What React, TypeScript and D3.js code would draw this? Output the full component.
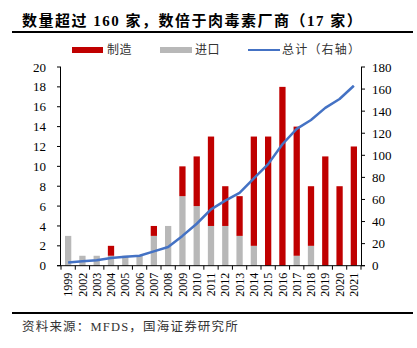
import React from "react";
import * as d3 from "d3";

const years = ["1999","2002","2003","2004","2005","2006","2007","2008","2009","2010","2011","2012","2013","2014","2015","2016","2017","2018","2019","2020","2021"];
const made = [0,0,0,1,0,0,1,0,3,5,9,4,4,11,13,18,13,6,11,8,12];
const imported = [3,1,1,1,1,1,3,4,7,6,4,4,3,2,0,0,1,2,0,0,0];
const total = [3,4,5,7,8,9,13,17,27,38,51,59,66,79,92,110,124,132,143,151,163];
const leftTicks = [0,2,4,6,8,10,12,14,16,18,20];
const rightTicks = [0,20,40,60,80,100,120,140,160,180];

const RED = "#C00000";
const GRAY = "#B8B8B8";
const BLUE = "#4472C4";
const SERIF = "'Liberation Serif', 'Times New Roman', 'Noto Sans CJK SC', serif";
const CJK = "'Liberation Serif', 'Noto Sans CJK SC', serif";

export default function App() {
  const W = 417, H = 348;
  const x0 = 61, x1 = 361, yTop = 67, yBot = 265.7;
  const x = d3.scaleBand<string>().domain(years).range([x0, x1]).paddingInner(0.56).paddingOuter(0.28);
  const step = x.step();
  const yL = d3.scaleLinear().domain([0, 20]).range([yBot, yTop]);
  const yR = d3.scaleLinear().domain([0, 180]).range([yBot, yTop]);
  const line = d3.line<number>().x((_, i) => (x(years[i]) as number) + x.bandwidth() / 2).y(d => yR(d));
  const bw = x.bandwidth();

  return (
    <div style={{ position: "absolute", left: 0, top: 0 }}>
    <svg width={W} height={H} style={{ display: "block", background: "#fff" }}>
      <text x={22} y={25.5} fontFamily={CJK} fontWeight="bold" fontSize={15} letterSpacing={1.5} fill="#000">数量超过 160 家，数倍于肉毒素厂商（17 家）</text>
      <line x1={12} x2={413} y1={32} y2={32} stroke="#000" strokeWidth={2} />

      {/* legend */}
      <rect x={72} y={47} width={31} height={6} fill={RED} />
      <text x={107} y={54} fontFamily={CJK} fontSize={12} letterSpacing={0.5} fill="#333">制造</text>
      <rect x={160} y={47} width={32} height={6} fill={GRAY} />
      <text x={195} y={54} fontFamily={CJK} fontSize={12} letterSpacing={0.5} fill="#333">进口</text>
      <line x1={248} x2={280} y1={50} y2={50} stroke={BLUE} strokeWidth={2} />
      <text x={282} y={54} fontFamily={CJK} fontSize={12} letterSpacing={1.2} fill="#333">总计（右轴）</text>

      {/* bars */}
      {years.map((yr, i) => (
        <g key={yr}>
          {imported[i] > 0 && (
            <rect x={x(yr)} y={yL(imported[i])} width={bw} height={yL(0) - yL(imported[i])} fill={GRAY} />
          )}
          {made[i] > 0 && (
            <rect x={x(yr)} y={yL(imported[i] + made[i])} width={bw} height={yL(imported[i]) - yL(imported[i] + made[i])} fill={RED} />
          )}
        </g>
      ))}

      {/* line */}
      <path d={line(total) || ""} fill="none" stroke={BLUE} strokeWidth={2.5} strokeLinejoin="round" />

      {/* left axis */}
      <line x1={x0 - 0.5} x2={x0 - 0.5} y1={yTop} y2={yBot} stroke="#000" strokeWidth={1} />
      {leftTicks.map(t => (
        <g key={"l" + t}>
          <line x1={x0 - 4} x2={x0} y1={yL(t)} y2={yL(t)} stroke="#000" />
          <text x={46} y={yL(t)} dy="0.35em" textAnchor="end" fontFamily={SERIF} fontSize={13} fill="#000">{t}</text>
        </g>
      ))}

      {/* right axis */}
      <line x1={x1 + 0.5} x2={x1 + 0.5} y1={yTop} y2={yBot} stroke="#000" strokeWidth={1} />
      {rightTicks.map(t => (
        <g key={"r" + t}>
          <line x1={x1} x2={x1 + 4} y1={yR(t)} y2={yR(t)} stroke="#000" />
          <text x={372} y={yR(t)} dy="0.35em" textAnchor="start" fontFamily={SERIF} fontSize={13} fill="#000">{t}</text>
        </g>
      ))}

      {/* x axis */}
      <line x1={x0 - 4} x2={x1 + 4} y1={yBot} y2={yBot} stroke="#000" strokeWidth={1} />
      {d3.range(years.length + 1).map(i => (
        <line key={"xt" + i} x1={x0 + i * step} x2={x0 + i * step} y1={yBot} y2={yBot + 4} stroke="#000" />
      ))}
      {years.map(yr => {
        const cx = (x(yr) as number) + bw / 2;
        return (
          <text key={"xl" + yr} transform={`translate(${cx},${yBot + 7}) rotate(-90)`} textAnchor="end" dy="0.35em" fontFamily={SERIF} fontSize={12} fill="#000">{yr}</text>
        );
      })}

      <line x1={12} x2={413} y1={313} y2={313} stroke="#000" strokeWidth={2} />
      <text x={22} y={331} fontFamily={CJK} fontSize={12.5} letterSpacing={1.2} fill="#333">资料来源：MFDS，国海证券研究所</text>
    </svg>
    </div>
  );
}
